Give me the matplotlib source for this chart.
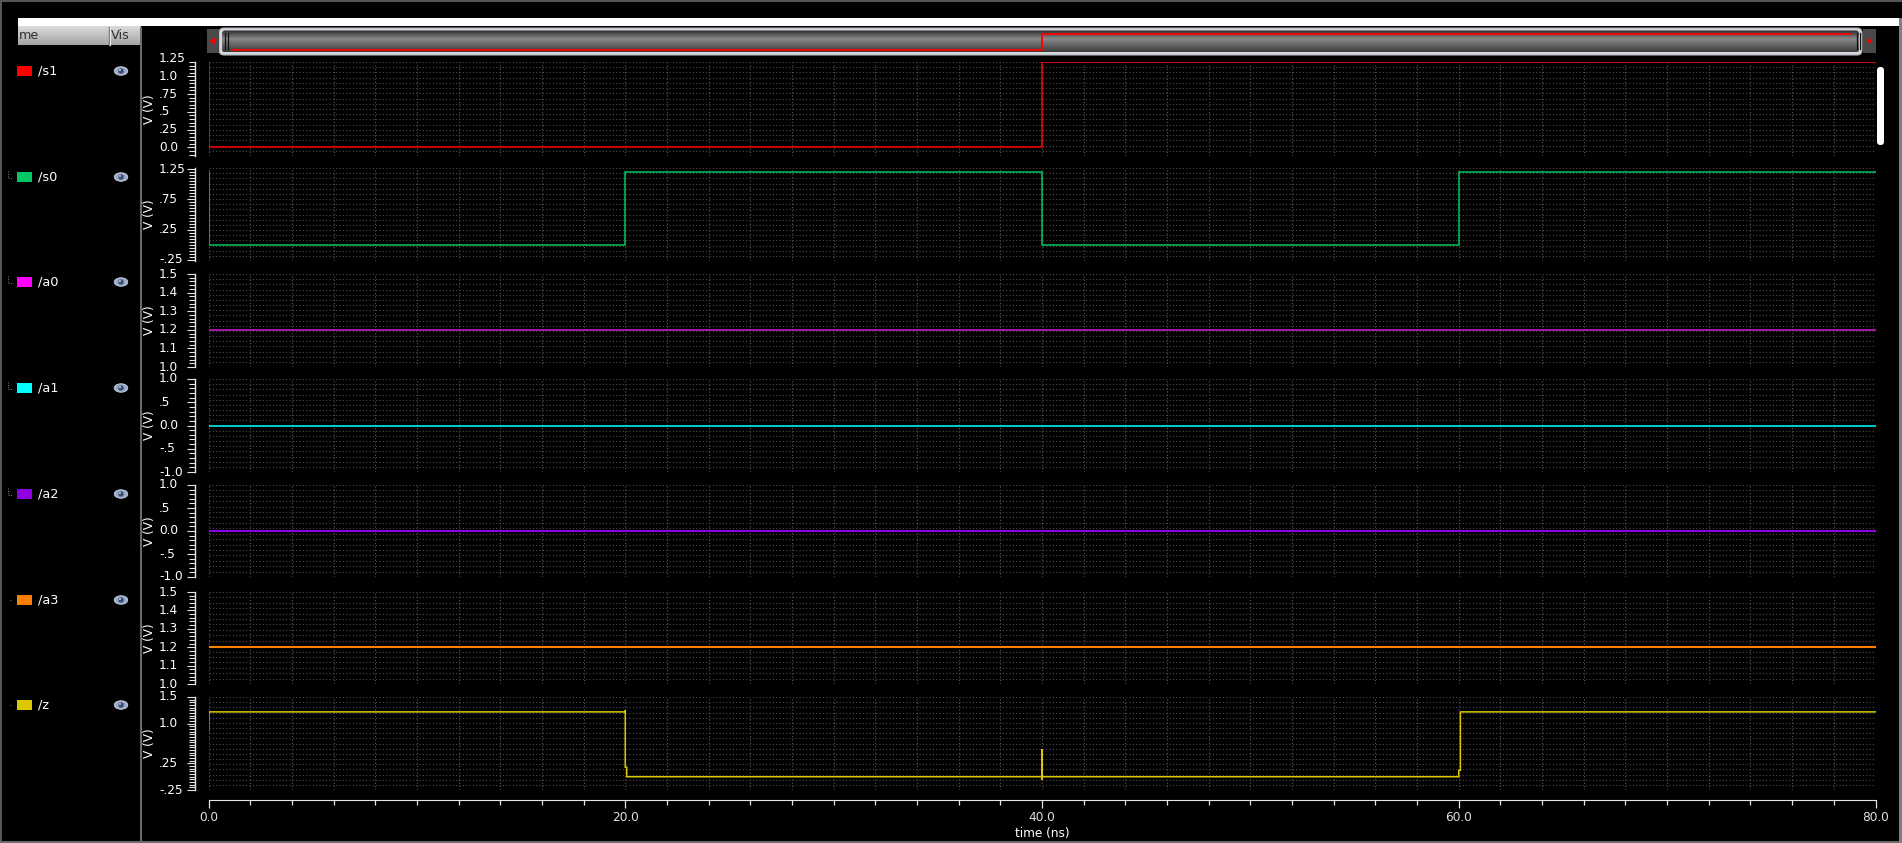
import numpy as np
import matplotlib
matplotlib.use('Agg')
import matplotlib.pyplot as plt
from matplotlib.ticker import MultipleLocator, FixedLocator
from matplotlib.transforms import blended_transform_factory as blend
from matplotlib.patches import Rectangle, FancyBboxPatch, Ellipse, Polygon

W, H = 1902, 843

# ---------------- data ----------------
signal_names = ['/s1', '/s0', '/a0', '/a1', '/a2', '/a3', '/z']
legend_colors = ['#ff0000', '#00c864', '#ff00ff', '#00ffff', '#9000e0', '#ff8000', '#dcc800']
trace_colors = ['#ff0000', '#00c864', '#d020d0', '#00ffff', '#8a00e0', '#ff8000', '#dcc800']

s1_t = [0, 0, 40, 40, 80]
s1_v = [1.2, 0.0, 0.0, 1.2, 1.2]
s0_t = [0, 0, 20, 20, 40, 40, 60, 60, 80]
s0_v = [1.2, 0.0, 0.0, 1.2, 1.2, 0.0, 0.0, 1.2, 1.2]
a0_t = [0, 80]
a0_v = [1.2, 1.2]
a1_t = [0, 80]
a1_v = [0.0, 0.0]
a2_t = [0, 80]
a2_v = [0.0, 0.0]
a3_t = [0, 80]
a3_v = [1.2, 1.2]
z_t = [0, 0.02, 20.0, 20.0, 20.0, 20.07, 20.07, 40.0, 40.0, 40.0, 40.03, 60.0, 60.0, 60.08, 60.08, 80]
z_v = [0.82, 1.22, 1.22, 1.25, 0.18, 0.18, 0.0, 0.0, 0.52, -0.06, 0.0, 0.0, 0.12, 0.12, 1.22, 1.22]

traces_t = [s1_t, s0_t, a0_t, a1_t, a2_t, a3_t, z_t]
traces_v = [s1_v, s0_v, a0_v, a1_v, a2_v, a3_v, z_v]

ytick_vals = [
    [1.25, 1.0, 0.75, 0.5, 0.25, 0.0],
    [1.25, 0.75, 0.25, -0.25],
    [1.5, 1.4, 1.3, 1.2, 1.1, 1.0],
    [1.0, 0.5, 0.0, -0.5, -1.0],
    [1.0, 0.5, 0.0, -0.5, -1.0],
    [1.5, 1.4, 1.3, 1.2, 1.1, 1.0],
    [1.5, 1.0, 0.25, -0.25],
]
ytick_labels = [
    ['1.25', '1.0', '.75', '.5', '.25', '0.0'],
    ['1.25', '.75', '.25', '-.25'],
    ['1.5', '1.4', '1.3', '1.2', '1.1', '1.0'],
    ['1.0', '.5', '0.0', '-.5', '-1.0'],
    ['1.0', '.5', '0.0', '-.5', '-1.0'],
    ['1.5', '1.4', '1.3', '1.2', '1.1', '1.0'],
    ['1.5', '1.0', '.25', '-.25'],
]
ylims = [(-0.12, 1.2), (-0.27, 1.27), (1.0, 1.5), (-1.0, 1.0), (-1.0, 1.0), (1.0, 1.5), (-0.25, 1.5)]
yminor = [0.05, 0.05, 0.02, 0.1, 0.1, 0.02, 0.05]

xtick_vals = [0, 20, 40, 60, 80]
xtick_labels = ['0.0', '20.0', '40.0', '60.0', '80.0']
x_label = 'time (ns)'
y_label = 'V (V)'

# ---------------- layout (pixels) ----------------
panel_top = [62, 168, 274, 379, 485, 592, 697]
panel_bot = [156, 261, 367, 472, 577, 684, 790]
legend_y = [71, 177, 282, 388, 494, 600, 705]
X0, X1 = 208.5, 1875.5
FS = 8.7

fig = plt.figure(figsize=(W / 100, H / 100), dpi=100, facecolor='black')
bg = fig.add_axes([0, 0, 1, 1])
bg.set_xlim(0, W)
bg.set_ylim(H, 0)
bg.axis('off')
bg.set_zorder(0)

def rect(x, y, w, h, c, **kw):
    bg.add_patch(Rectangle((x, y), w, h, facecolor=c, edgecolor='none', **kw))

# borders / chrome
rect(0, 0, W, 1.5, '#555555')
rect(0, 0, 1.5, H, '#555555')
rect(0, 840.5, W, 2.5, '#6a6a6a')
rect(18, 18, 1881, 8, '#ffffff')
rect(1899, 18, 3, H, '#808080')
# header gradient
grad = np.linspace(0.86, 0.64, 40)[:, None] * np.ones((1, 2))
bg.imshow(np.dstack([grad, grad, grad]), extent=(18, 141, 45, 26), aspect='auto', zorder=1)
bg.plot([109, 109], [27, 45], color='#7a7a7a', lw=1, zorder=2)
bg.plot([110.2, 110.2], [27, 45], color='#e8e8e8', lw=0.8, zorder=2)
bg.text(18.5, 35.5, 'me', color='#303030', fontsize=FS + 0.5, va='center', ha='left', zorder=3)
bg.text(111, 35.5, 'Vis', color='#303030', fontsize=FS + 0.5, va='center', ha='left', zorder=3)
rect(140, 27, 2.2, 814, '#6a6a6a')

# legend rows
for i, (nm, c, yy) in enumerate(zip(signal_names, legend_colors, legend_y)):
    rect(17, yy - 5, 15, 10, c)
    bg.text(38, yy, nm, color='white', fontsize=FS + 0.6, va='center', ha='left')
    bg.add_patch(Ellipse((121, yy), 13.5, 8.5, facecolor='#9aaccc', edgecolor='#c8d4e8', lw=0.6))
    bg.add_patch(Ellipse((121, yy), 5.5, 5.5, facecolor='#3c4a68', edgecolor='#6a7ca0', lw=0.5))
    bg.add_patch(Ellipse((120, yy - 1), 1.8, 1.8, facecolor='#e0e8f8', edgecolor='none'))
    if 1 <= i <= 4:
        bg.plot([8, 8, 12], [yy - 6, yy + 1, yy + 1], color='#808080', lw=0.7, ls=(0, (1, 1.5)))
    elif i >= 5:
        bg.plot([10, 12], [yy, yy], color='#808080', lw=0.7, ls=(0, (1, 1.5)))

# scrollbar
thumb = FancyBboxPatch((219, 28), 1643, 27, boxstyle='round,pad=0,rounding_size=5',
                       facecolor='#d4d8dc', edgecolor='#b0b4b8', lw=0.8, zorder=2)
bg.add_patch(thumb)
inner = FancyBboxPatch((222, 30.5), 1637, 22, boxstyle='round,pad=0,rounding_size=3',
                       facecolor='none', edgecolor='none', zorder=3)
bg.add_patch(inner)
g = np.concatenate([np.linspace(0.18, 0.52, 9), np.linspace(0.52, 0.24, 13)])
gimg = np.dstack([g[:, None] * np.ones((1, 2))] * 3)
im = bg.imshow(gimg, extent=(222, 1859, 52.5, 30.5), aspect='auto', zorder=3)
im.set_clip_path(inner)
for gx in (224.5, 227.5, 1856.5, 1859.5):
    bg.plot([gx, gx], [33, 49], color='#101010', lw=0.9, zorder=4)
rect(207, 29, 12, 24, '#4a4a4a', zorder=2)
bg.add_patch(Polygon([(209.5, 41), (215, 37.5), (215, 44.5)], facecolor='#ff0000', zorder=3))
rect(1863, 29, 13, 24, '#4a4a4a', zorder=2)
bg.add_patch(Polygon([(1872.5, 41), (1867, 37.5), (1867, 44.5)], facecolor='#ff0000', zorder=3))
bg.set_xlim(0, W)
bg.set_ylim(H, 0)

mini = fig.add_axes([232 / W, 1 - 49.5 / H, (1851 - 232) / W, 15.5 / H])
mini.set_xlim(0, 80)
mini.set_ylim(0.0, 1.2)
mini.axis('off')
mini.set_zorder(3)
mini.plot(s1_t[1:], s1_v[1:], color='#ff0000', lw=1.3, clip_on=False)

# right vertical scroll bar
bg.add_patch(FancyBboxPatch((1877, 67), 7, 78, boxstyle='round,pad=0,rounding_size=3.4',
                            facecolor='white', edgecolor='none'))

# ---------------- panels ----------------
axes = []
for i in range(7):
    top, bot = panel_top[i], panel_bot[i]
    ax = fig.add_axes([X0 / W, 1 - bot / H, (X1 - X0) / W, (bot - top) / H])
    ax.set_facecolor('none')
    ax.set_zorder(2)
    ymin, ymax = ylims[i]
    ax.set_xlim(0, 80)
    ax.set_ylim(ymin, ymax)
    # grid
    ax.vlines(np.arange(0, 80.01, 2), ymin, ymax, colors='#5a5a5a', linestyles=(0, (1, 2)), lw=0.8, zorder=1)
    nrows = int(round((bot - top) / 5.3))
    ax.hlines(np.linspace(ymin, ymax, nrows + 1), 0, 80, colors='#4c4c4c', linestyles=(0, (1, 2)), lw=0.8, zorder=1)
    # trace
    lw = 1.5 if i in (4, 5) else 1.1
    ax.plot(traces_t[i], traces_v[i], color=trace_colors[i], lw=lw, zorder=3, solid_joinstyle='miter')
    # ruler
    for s in ('top', 'right', 'bottom'):
        ax.spines[s].set_visible(False)
    ax.spines['left'].set_position(('outward', 10))
    ax.spines['left'].set_color('#e6e6e6')
    ax.spines['left'].set_linewidth(1.0)
    ax.yaxis.set_major_locator(FixedLocator(ytick_vals[i]))
    ax.yaxis.set_minor_locator(MultipleLocator(yminor[i]))
    ax.tick_params(axis='y', which='major', length=6, width=0.8, color='#e6e6e6', labelleft=False)
    ax.tick_params(axis='y', which='minor', length=4, width=0.8, color='#e6e6e6')
    ax.tick_params(axis='x', which='both', bottom=False, labelbottom=False)
    tr = blend(bg.transData, ax.transData)
    for v, lab in zip(ytick_vals[i], ytick_labels[i]):
        ax.text(159, v, lab, transform=tr, color='white', fontsize=FS, ha='left', va='center', clip_on=False)
    ax.text(149, 0.5, y_label, transform=blend(bg.transData, ax.transAxes), rotation=90,
            color='white', fontsize=FS, ha='center', va='center', clip_on=False)
    axes.append(ax)

axz = axes[-1]
axz.spines['bottom'].set_visible(True)
axz.spines['bottom'].set_position(('outward', 7))
axz.spines['bottom'].set_color('#e6e6e6')
axz.xaxis.set_major_locator(FixedLocator(xtick_vals))
axz.xaxis.set_minor_locator(MultipleLocator(2))
axz.tick_params(axis='x', which='major', bottom=True, length=6, width=0.9, color='#e6e6e6', labelbottom=False)
axz.tick_params(axis='x', which='minor', bottom=True, length=3.5, width=0.9, color='#e6e6e6')
trx = blend(axz.transData, bg.transData)
for v, lab in zip(xtick_vals, xtick_labels):
    axz.text(v, 817.5, lab, transform=trx, color='#e0e0e0', fontsize=FS, ha='center', va='center', clip_on=False)
axz.text(40, 834, x_label, transform=trx, color='white', fontsize=FS, ha='center', va='center', clip_on=False)

fig.savefig('out.png', dpi=100, facecolor='black')
